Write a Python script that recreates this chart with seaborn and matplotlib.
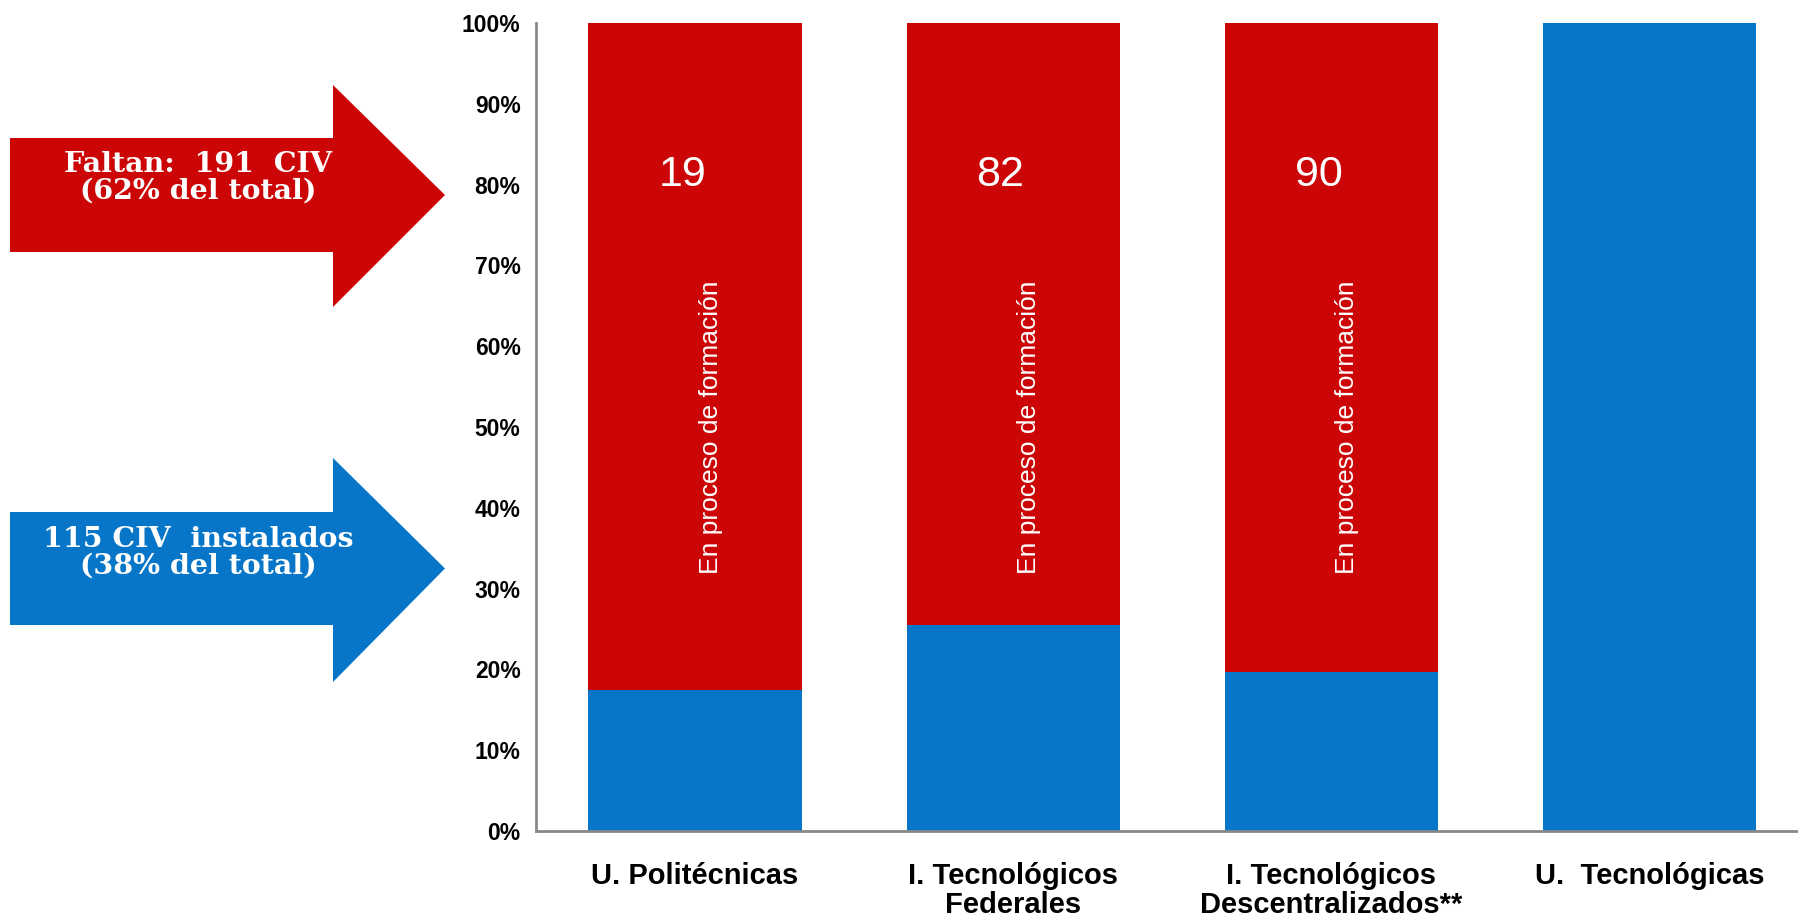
import matplotlib

matplotlib.use("Agg")
import matplotlib.pyplot as plt
import numpy as np
import pandas as pd
import seaborn as sns
from matplotlib.patches import Polygon

# --- data ---
categories = ["U. Politécnicas", "I. Tecnológicos\nFederales",
              "I. Tecnológicos\nDescentralizados**", "U.  Tecnológicas"]
installed = [4, 28, 22, 61]      # CIV instalados
pending = [19, 82, 90, 0]        # CIV en proceso de formación
pending_labels = ["19", "82", "90", ""]
inner_text = "En proceso de formación"
arrow_red_text = "Faltan:  191  CIV\n(62% del total)"
arrow_blue_text = "115 CIV  instalados\n(38% del total)"

RED = "#CC0606"
BLUE = "#0776C8"

totals = [i + p for i, p in zip(installed, pending)]
df = pd.DataFrame({
    "cat": categories,
    "installed_pct": [100 * i / t for i, t in zip(installed, totals)],
    "total_pct": [100.0] * len(categories),
})

sns.set_style("white")
plt.rcParams["font.family"] = ["Liberation Sans", "DejaVu Sans"]

fig = plt.figure(figsize=(17.98, 9.21), dpi=100)
ax = fig.add_axes([0.298, 0.0977, 0.708, 0.8773])

sns.barplot(data=df, x="cat", y="total_pct", color=RED, width=0.67,
            saturation=1, ax=ax, order=categories, linewidth=0)
sns.barplot(data=df, x="cat", y="installed_pct", color=BLUE, width=0.67,
            saturation=1, ax=ax, order=categories, linewidth=0)

for i, (lab, p) in enumerate(zip(pending_labels, pending)):
    if p == 0:
        continue
    ax.text(i - 0.04, 81.2, lab, color="white", fontsize=31,
            ha="center", va="center")
    ax.text(i + 0.05, 50, inner_text, color="white", fontsize=19,
            rotation=90, ha="center", va="center")

ax.set_ylim(0, 100)
ax.set_xlim(-0.5, 3.5)
ax.set_yticks(np.arange(0, 101, 10))
ax.set_yticklabels([f"{v}%" for v in range(0, 101, 10)],
                   fontsize=16.5, fontweight="bold", color="black")
ax.set_xticks(range(len(categories)))
ax.set_xticklabels(categories, fontsize=21, fontweight="bold",
                   color="black", linespacing=1.05)
ax.set_xticks(np.arange(-0.5, 4.0, 1.0), minor=True)
ax.tick_params(axis="x", which="major", length=0, pad=22)
ax.tick_params(axis="x", which="minor", length=10, width=1.2,
               color="#888888", direction="out")
ax.tick_params(axis="y", length=8, width=1.2, color="#888888",
               direction="out", pad=3)
ax.set_xlabel("")
ax.set_ylabel("")
for side in ["top", "right"]:
    ax.spines[side].set_visible(False)
for side in ["left", "bottom"]:
    ax.spines[side].set_color("#888888")
    ax.spines[side].set_linewidth(2)

# --- big arrows on the left (figure pixel coordinates) ---
ov = fig.add_axes([0, 0, 1, 1], zorder=5)
ov.set_xlim(0, 1798)
ov.set_ylim(921, 0)
ov.axis("off")


def draw_arrow(y_top, y_bot, head_top, head_bot, color, text, text_y):
    x0, x1, tip = 10, 333, 445
    mid = (y_top + y_bot) / 2
    pts = [(x0, y_top), (x1, y_top), (x1, head_top), (tip, mid),
           (x1, head_bot), (x1, y_bot), (x0, y_bot)]
    ov.add_patch(Polygon(pts, closed=True, facecolor=color,
                         edgecolor="none"))
    ov.text(198, text_y, text, color="white", fontsize=20.5,
            fontweight="bold", family=["DejaVu Serif"], ha="center",
            va="center", linespacing=1.0)


draw_arrow(138, 252, 85, 307, RED, arrow_red_text, 178)
draw_arrow(512, 625, 458, 682, BLUE, arrow_blue_text, 553)

fig.savefig("out.png", dpi=100)
